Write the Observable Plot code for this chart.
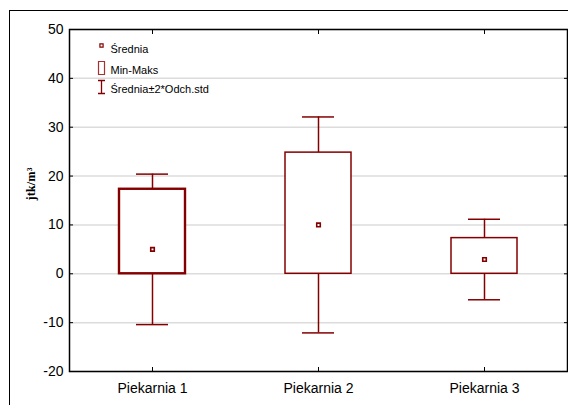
<!DOCTYPE html>
<html>
<head>
<meta charset="utf-8">
<script src="https://cdn.jsdelivr.net/npm/d3@7"></script>
<script src="https://cdn.jsdelivr.net/npm/@observablehq/plot@0.6"></script>
<style>
  html, body { margin: 0; padding: 0; background: white; overflow: hidden; }
  #wrap { position: relative; width: 568px; height: 405px; }
  #outer { position: absolute; left: 8.5px; top: 9.5px; right: -20px; bottom: -20px;
           border-left: 1.5px solid #000; border-top: 1.5px solid #000; pointer-events: none; }
</style>
</head>
<body>
<div id="wrap"></div>
<script>
// ---- data ----
const categories = ["Piekarnia 1", "Piekarnia 2", "Piekarnia 3"];
const srednia   = [5.0, 10.0, 2.92];      // mean
const minVals   = [0.0, 0.0, 0.0];        // min
const maxVals   = [17.3, 24.8, 7.3];      // max
const odchStd   = [7.7, 11.05, 4.12];     // standard deviation
const yTicks    = [-20, -10, 0, 10, 20, 30, 40, 50];
const yLabel    = "jtk/m³";
const legendLabels = ["Średnia", "Min-Maks", "Średnia±2*Odch.std"];

const data = categories.map((c, i) => ({
  cat: c, mean: srednia[i], min: minVals[i], max: maxVals[i], sd: odchStd[i]
}));

const red = "#840000";

const rectSymbol = { draw(ctx) { ctx.rect(-3, -6.5, 6, 13); } };
const ibeamSymbol = { draw(ctx) {
  ctx.moveTo(-3.5, -6.5); ctx.lineTo(3.5, -6.5);
  ctx.moveTo(0, -6.5); ctx.lineTo(0, 6.5);
  ctx.moveTo(-3.5, 6.5); ctx.lineTo(3.5, 6.5);
} };

const chart = Plot.plot({
  width: 568,
  height: 405,
  marginLeft: 69,
  marginTop: 29,
  marginRight: 1,
  marginBottom: 34,
  style: { fontFamily: "'Liberation Sans', Arial, sans-serif", fontSize: "14px", color: "#000", background: "transparent" },
  x: { domain: categories, paddingInner: 0.6, paddingOuter: 0.3, label: null },
  y: { domain: [-20, 50], label: null },
  marks: [
    Plot.gridY(yTicks, { stroke: "#dcdcdc", strokeOpacity: 1, strokeWidth: 1.5 }),
    Plot.ruleX(data, { x: "cat", y1: d => d.mean - 2 * d.sd, y2: d => d.mean + 2 * d.sd, stroke: red, strokeWidth: 1.5 }),
    Plot.tickY(data, { x: "cat", y: d => d.mean + 2 * d.sd, insetLeft: 17, insetRight: 17, stroke: red, strokeWidth: 1.5 }),
    Plot.tickY(data, { x: "cat", y: d => d.mean - 2 * d.sd, insetLeft: 17, insetRight: 17, stroke: red, strokeWidth: 1.5 }),
    Plot.barY(data, { x: "cat", y1: "min", y2: "max", fill: "white", stroke: red,
      strokeWidth: d => d.cat === categories[0] ? 2.4 : 1.5 }),
    Plot.dot(data, { x: "cat", y: "mean", symbol: "square", r: 2, fill: "white", stroke: red, strokeWidth: 1.6 }),
    Plot.frame({ stroke: "#000", strokeWidth: 1.5 }),
    Plot.axisY({ ticks: yTicks, anchor: "left", tickSize: -4, tickPadding: 10, label: null, fontSize: 14, tickFormat: d => String(d) }),
    Plot.axisY({ ticks: yTicks, anchor: "right", tickSize: -4, tickFormat: () => "", label: null }),
    Plot.axisX({ anchor: "bottom", tickSize: -4, tickPadding: 16, label: null, fontSize: 14 }),
    Plot.axisX({ anchor: "top", tickSize: -4, tickFormat: () => "", label: null }),
    // y label
    Plot.text([yLabel], { frameAnchor: "left", dx: -39, rotate: -90, text: d => d, lineAnchor: "middle",
      fontFamily: "'Liberation Serif', 'Times New Roman', serif", fontWeight: "bold", fontSize: 12.5, fill: "#000" }),
    // legend
    Plot.dot([0], { frameAnchor: "top-left", dx: 32, dy: 16, symbol: "square", r: 1.8, fill: "white", stroke: red, strokeWidth: 1.2 }),
    Plot.dot([0], { frameAnchor: "top-left", dx: 32, dy: 38.5, symbol: rectSymbol, fill: "white", stroke: "#a83030", strokeWidth: 1.2 }),
    Plot.dot([0], { frameAnchor: "top-left", dx: 32, dy: 57.5, symbol: ibeamSymbol, fill: "none", stroke: red, strokeWidth: 1.3 }),
    Plot.text([legendLabels[0]], { frameAnchor: "top-left", lineAnchor: "middle", dx: 41, dy: 20, text: d => d, textAnchor: "start", fontSize: 11, fill: "#000" }),
    Plot.text([legendLabels[1]], { frameAnchor: "top-left", lineAnchor: "middle", dx: 41, dy: 40.5, text: d => d, textAnchor: "start", fontSize: 11, fill: "#000" }),
    Plot.text([legendLabels[2]], { frameAnchor: "top-left", lineAnchor: "middle", dx: 41, dy: 60, text: d => d, textAnchor: "start", fontSize: 11, fill: "#000" })
  ]
});

const wrap = document.getElementById("wrap");
wrap.appendChild(chart);
const outer = document.createElement("div");
outer.id = "outer";
wrap.appendChild(outer);
</script>
</body>
</html>
